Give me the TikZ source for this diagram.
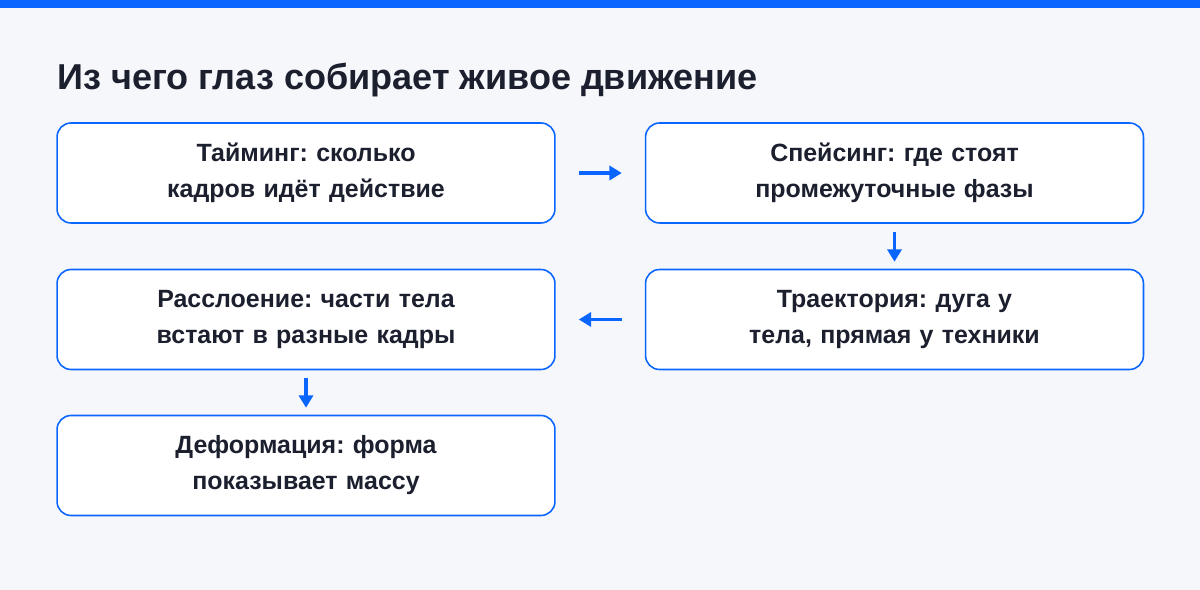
\documentclass[tikz,border=0pt]{standalone}
\usepackage{fontspec}
\setmainfont{Liberation Sans}
\frenchspacing
\usetikzlibrary{arrows.meta,positioning}
\definecolor{accent}{HTML}{0A66FF}
\definecolor{pagebg}{HTML}{F6F7FB}
\definecolor{ink}{HTML}{1B1F2E}
\begin{document}
\begin{tikzpicture}[x=0.02cm,y=-0.02cm,
    stage/.style={draw=accent, line width=0.9pt, fill=white, rounded corners=0.28cm,
        minimum width=9.96cm, minimum height=2cm, text width=8.9cm, align=center,
        font=\fontsize{14.2}{20.5}\selectfont\bfseries, text=ink},
    flow/.style={-{Triangle[length=7pt,width=8pt]}, draw=accent, line width=1.8pt}]
            \fill[pagebg] (0,0) rectangle (1200,590);
            \fill[accent] (0,0) rectangle (1200,8);
            \node[anchor=base west, font=\fontsize{20.5}{24}\selectfont\bfseries, text=ink, inner sep=0pt] (title) at (57,90) {Из чего глаз собирает живое движение};

            \node[stage] (timing) at (306,173) {Тайминг: сколько кадров идёт действие};
            \node[stage] (spacing) at (894.5,173) {Спейсинг: где стоят промежуточные фазы};
            \node[stage] (arc) at (894.5,319.5) {Траектория: дуга у тела, прямая у техники};
            \node[stage] (overlap) at (306,319.5) {Расслоение: части тела встают в разные кадры};
            \node[stage] (squash) at (306,465.5) {Деформация: форма показывает массу};

            \draw[flow, shorten <=0.46cm, shorten >=0.46cm] (timing.east) -- (spacing.west);
            \draw[flow, shorten <=0.16cm, shorten >=0.14cm] (spacing.south) -- (arc.north);
            \draw[flow, shorten <=0.46cm, shorten >=0.46cm] (arc.west) -- (overlap.east);
            \draw[flow, shorten <=0.16cm, shorten >=0.14cm] (overlap.south) -- (squash.north);
\end{tikzpicture}
\end{document}
